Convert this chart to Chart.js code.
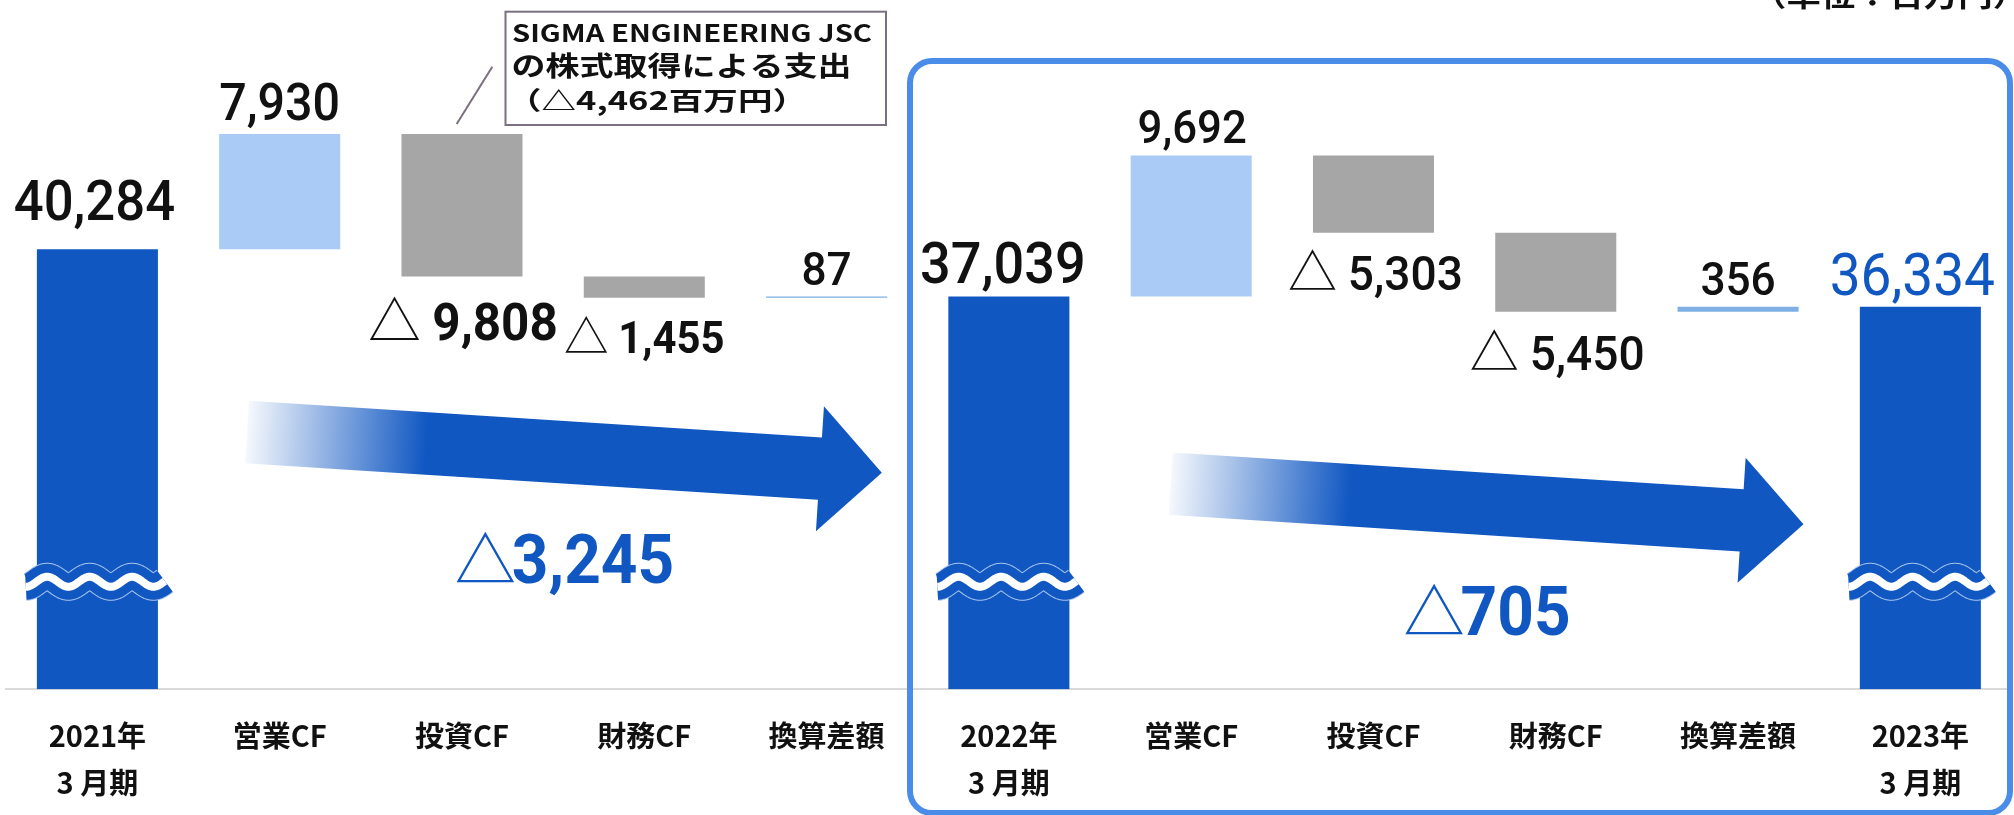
<!DOCTYPE html>
<html lang="ja">
<head>
<meta charset="utf-8">
<title>現金及び現金同等物の増減</title>
<script src="https://cdn.jsdelivr.net/npm/chart.js@4.4.1/dist/chart.umd.min.js"></script>
<style>
  html, body { margin: 0; padding: 0; background: #ffffff; }
  canvas { display: block; }
</style>
</head>
<body>
<canvas id="cf" width="2014" height="815"></canvas>
<script>
// Categories along the x axis: period-end balances and the cash-flow items between them
const categories = [
  ['2021年', '3 月期'], '営業CF', '投資CF', '財務CF', '換算差額',
  ['2022年', '3 月期'], '営業CF', '投資CF', '財務CF', '換算差額',
  ['2023年', '3 月期']
];
// Cash balance at each period end (百万円)
const balances = [40284, 37039, 36334];
// Cash-flow items per year: 営業CF, 投資CF, 財務CF, 換算差額 (百万円)
const flowsFY2022 = [7930, -9808, -1455, 87];
const flowsFY2023 = [9692, -5303, -5450, 356];
// Callout for the investing outflow of FY2022
const calloutLines = ['SIGMA ENGINEERING JSC', 'の株式取得による支出', '（△4,462百万円）'];
const unitLabel = '（単位：百万円）';

// Value axis (broken below its start)
const axisMin = 10000;
const axisMax = 53000;
const axisBreakValue = 17400;

const COLORS = {
  balance: '#1057c2',
  up: '#abcbf7',
  down: '#a6a6a6',
  fx: '#7eb0e6',
  frame: '#4a8de9',
  callout: '#7a6f82',
  text: '#111111'
};

// Waterfall segments built from the balances and flows
const bars = [], amounts = [], kinds = [];
bars.push([axisMin, balances[0]]); amounts.push(balances[0]); kinds.push('balance');
[flowsFY2022, flowsFY2023].forEach((flows, p) => {
  let level = balances[p];
  flows.forEach((v, j) => {
    bars.push([level, level + v]);
    amounts.push(v);
    kinds.push(j === 3 ? 'fx' : (v >= 0 ? 'up' : 'down'));
    level += v;
  });
  bars.push([axisMin, balances[p + 1]]); amounts.push(balances[p + 1]); kinds.push('balance');
});

// Typography of the value label over/under each segment
const labelStyle = [
  { size: 56,   weight: 500, dx: -3,  gap: 29 },
  { size: 51.5, weight: 500, dx: 0,   gap: 14 },
  { size: 52.5, weight: 700, dx: 1,   gap: 63 },
  { size: 44.5, weight: 700, dx: 0,   gap: 55.5 },
  { size: 47,   weight: 500, dx: 0,   gap: 11.7 },
  { size: 57.5, weight: 500, dx: -6,  gap: 13.7 },
  { size: 46.5, weight: 500, dx: 1,   gap: 12.7 },
  { size: 49,   weight: 500, dx: 2,   gap: 57.3 },
  { size: 49,   weight: 500, dx: 1.5, gap: 58 },
  { size: 47,   weight: 500, dx: 0,   gap: 11.7 },
  { size: 58.5, weight: 400, dx: -8,  gap: 11.7, color: COLORS.balance }
];

// Trend arrows between period-end balances (x in category units, y in axis values)
const trendArrows = [
  { from: 0.821, to: 4.303, tailValue: 27708, tipValue: 24907, startIdx: 0 },
  { from: 5.887, to: 9.359, tailValue: 24150, tipValue: 21356, startIdx: 1 }
];

const NUM_SCALE_X = 0.94;
const fmt = (n) => Math.abs(n).toLocaleString('en-US');

function drawNumber(ctx, value, cx, baseline, st, triGap) {
  const color = st.color || COLORS.text;
  const numFont = `${st.weight} ${st.size}px Roboto, "Liberation Sans", sans-serif`;
  const triFont = `400 ${st.size * (st.triScale || 1)}px "Noto Sans CJK JP", sans-serif`;
  const text = fmt(value);
  ctx.font = numFont;
  const wNum = ctx.measureText(text).width * NUM_SCALE_X;
  let wTri = 0, gap = 0;
  if (value < 0) {
    ctx.font = triFont;
    wTri = ctx.measureText('△').width;
    gap = st.size * triGap;
  }
  let x = cx - (wTri + gap + wNum) / 2;
  ctx.fillStyle = color;
  ctx.textAlign = 'left';
  ctx.textBaseline = 'alphabetic';
  if (value < 0) {
    ctx.font = triFont;
    ctx.fillText('△', x, baseline);
    x += wTri + gap;
  }
  ctx.save();
  ctx.translate(x, baseline);
  ctx.scale(NUM_SCALE_X, 1);
  ctx.font = numFont;
  ctx.fillText(text, 0, 0);
  ctx.restore();
}

function drawStretched(ctx, text, x, baseline, font, width) {
  ctx.font = font;
  const w = ctx.measureText(text).width;
  ctx.save();
  ctx.translate(x, baseline);
  ctx.scale(width / w, 1);
  ctx.textAlign = 'left';
  ctx.textBaseline = 'alphabetic';
  ctx.fillText(text, 0, 0);
  ctx.restore();
}

const decorations = {
  id: 'cfDecorations',
  beforeDatasetsDraw(chart) {
    const { ctx, scales: { x, y } } = chart;
    trendArrows.forEach(a => {
      const x0 = x.getPixelForValue(a.from), x1 = x.getPixelForValue(a.to);
      const y0 = y.getPixelForValue(a.tailValue), y1 = y.getPixelForValue(a.tipValue);
      const len = Math.hypot(x1 - x0, y1 - y0);
      const ang = Math.atan2(y1 - y0, x1 - x0);
      const shaftHalf = 31.2, headHalf = 62.6, headLen = 62;
      ctx.save();
      ctx.translate(x0, y0);
      ctx.rotate(ang);
      const g = ctx.createLinearGradient(0, 0, 180, 0);
      g.addColorStop(0, 'rgba(16,87,194,0.04)');
      g.addColorStop(1, 'rgba(16,87,194,1)');
      ctx.fillStyle = g;
      ctx.beginPath();
      ctx.moveTo(0, -shaftHalf);
      ctx.lineTo(len - headLen, -shaftHalf);
      ctx.lineTo(len - headLen, -headHalf);
      ctx.lineTo(len, 0);
      ctx.lineTo(len - headLen, headHalf);
      ctx.lineTo(len - headLen, shaftHalf);
      ctx.lineTo(0, shaftHalf);
      ctx.closePath();
      ctx.fill();
      ctx.restore();
    });
  },
  afterDatasetsDraw(chart) {
    const { ctx, scales: { x, y } } = chart;
    const meta = chart.getDatasetMeta(0);

    // Axis-break marks across the balance columns
    const yb = y.getPixelForValue(axisBreakValue);
    meta.data.forEach((el, i) => {
      if (kinds[i] !== 'balance') return;
      const left = el.x - el.width / 2 - 11, right = el.x + el.width / 2 + 7.5;
      const amp = 5, period = 42.5;
      const path = () => {
        ctx.beginPath();
        for (let px = left; px <= right + 0.01; px += 1) {
          const py = yb + amp * Math.cos(2 * Math.PI * (px - left) / period);
          if (px === left) ctx.moveTo(px, py); else ctx.lineTo(px, py);
        }
      };
      ctx.save();
      ctx.lineCap = 'butt';
      ctx.lineJoin = 'round';
      path(); ctx.strokeStyle = '#a9c4ee'; ctx.lineWidth = 28; ctx.stroke();
      path(); ctx.strokeStyle = COLORS.balance; ctx.lineWidth = 26; ctx.stroke();
      path(); ctx.strokeStyle = '#ffffff'; ctx.lineWidth = 8; ctx.stroke();
      ctx.restore();
    });

    // Value labels
    meta.data.forEach((el, i) => {
      const st = labelStyle[i];
      const top = Math.min(el.y, el.base), bottom = Math.max(el.y, el.base);
      const v = amounts[i];
      const baseline = v < 0 ? bottom + st.gap : top - st.gap;
      drawNumber(ctx, v, el.x + st.dx, baseline, st, 0.22);
    });

    // Change in balance under each trend arrow
    trendArrows.forEach(a => {
      const mid = (a.from + a.to) / 2;
      const cx = x.getPixelForValue(mid);
      const cy = y.getPixelForValue((a.tailValue + a.tipValue) / 2);
      const diff = balances[a.startIdx + 1] - balances[a.startIdx];
      drawNumber(ctx, diff, cx, cy + 131,
        { size: 68, weight: 700, color: COLORS.balance, triScale: 0.9 }, -0.06);
    });

    // Callout for the share acquisition
    const inv = meta.data[2];
    ctx.save();
    ctx.strokeStyle = COLORS.callout;
    ctx.lineWidth = 2;
    ctx.beginPath();
    ctx.moveTo(inv.x - 5.3, Math.min(inv.y, inv.base) - 10);
    ctx.lineTo(inv.x + 30.3, 66.7);
    ctx.stroke();
    ctx.fillStyle = '#ffffff';
    ctx.fillRect(505.5, 11.7, 380.5, 113.3);
    ctx.strokeRect(505.5, 11.7, 380.5, 113.3);
    ctx.fillStyle = COLORS.text;
    drawStretched(ctx, calloutLines[0], 512, 41.7, 'bold 24px "Noto Sans CJK JP", sans-serif', 360);
    drawStretched(ctx, calloutLines[1], 511.5, 76.3, 'bold 27px "Noto Sans CJK JP", sans-serif', 340);
    drawStretched(ctx, calloutLines[2], 507, 110, 'bold 25px "Noto Sans CJK JP", sans-serif', 300);
    ctx.restore();
  },
  afterDraw(chart) {
    const { ctx } = chart;
    // Frame around the latest fiscal year
    const fx = 910, fy = 61, fw = 1100, fh = 752, r = 22;
    ctx.save();
    ctx.strokeStyle = COLORS.frame;
    ctx.lineWidth = 6;
    ctx.beginPath();
    ctx.moveTo(fx + r, fy);
    ctx.arcTo(fx + fw, fy, fx + fw, fy + fh, r);
    ctx.arcTo(fx + fw, fy + fh, fx, fy + fh, r);
    ctx.arcTo(fx, fy + fh, fx, fy, r);
    ctx.arcTo(fx, fy, fx + fw, fy, r);
    ctx.closePath();
    ctx.stroke();
    // Unit note
    ctx.fillStyle = COLORS.text;
    drawStretched(ctx, unitLabel, 1752, 6.2, 'bold 30px "Noto Sans CJK JP", sans-serif', 275);
    ctx.restore();
  }
};

new Chart(document.getElementById('cf'), {
  type: 'bar',
  data: {
    labels: categories,
    datasets: [{
      data: bars,
      backgroundColor: kinds.map(k => COLORS[k]),
      borderWidth: 0,
      categoryPercentage: 1,
      barPercentage: 0.664
    }]
  },
  options: {
    responsive: false,
    devicePixelRatio: 1,
    animation: false,
    layout: { padding: { top: 64.5, left: 6.25, right: 2.5, bottom: 0 } },
    plugins: { legend: { display: false }, tooltip: { enabled: false } },
    scales: {
      x: {
        grid: { display: false, drawTicks: false },
        border: { display: true, color: '#d9d9d9', width: 2 },
        ticks: {
          color: COLORS.text,
          padding: 22.7,
          autoSkip: false,
          maxRotation: 0,
          font: { family: '"Noto Sans CJK JP", sans-serif', size: 29, weight: 'bold', lineHeight: '47px' }
        },
        afterFit(scale) { scale.height = 125.7; }
      },
      y: { display: false, min: axisMin, max: axisMax }
    }
  },
  plugins: [decorations]
});
</script>
</body>
</html>
